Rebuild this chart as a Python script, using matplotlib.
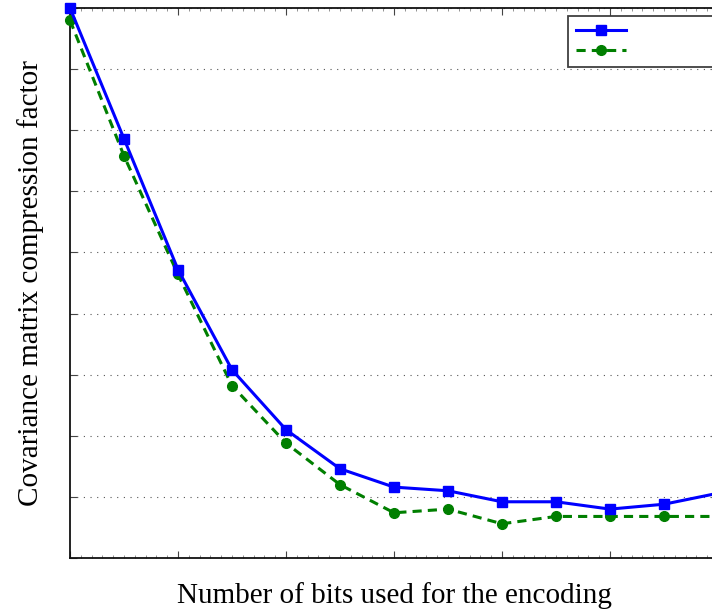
"""
Covariance matrix compression factor vs number of bits used for the encoding.
"""

import matplotlib
matplotlib.use("Agg")
import matplotlib.pyplot as plt
from matplotlib.ticker import MultipleLocator

# ---- data ----
bits = [2, 3, 4, 5, 6, 7, 8, 9, 10, 11, 12, 13, 14]
series_a = [45.0, 34.3, 23.6, 15.4, 10.5, 7.3, 5.8, 5.5, 4.6, 4.6, 4.0, 4.4, 5.3]
series_b = [44.0, 32.9, 23.2, 14.1, 9.4, 6.0, 3.7, 4.0, 2.8, 3.4, 3.4, 3.4, 3.4]
label_a = "                    "
label_b = "                    "

plt.rcParams["font.family"] = ["Liberation Serif", "DejaVu Serif"]

fig = plt.figure(figsize=(7.12, 6.16), dpi=100)
ax = fig.add_axes([70 / 712, 58 / 616, 648 / 712, 550 / 616])

ax.plot(bits, series_a, color="#0000FF", linestyle="-", linewidth=2.2,
        marker="s", markersize=7, label=label_a, clip_on=False, zorder=4)
ax.plot(bits, series_b, color="#007F00", linestyle="--", linewidth=2.2,
        dashes=(3, 2), marker="o", markersize=7, label=label_b,
        clip_on=False, zorder=3)

ax.set_xlim(2, 14)
ax.set_ylim(0, 45)
ax.xaxis.set_major_locator(MultipleLocator(2))
ax.xaxis.set_minor_locator(MultipleLocator(0.2))
ax.yaxis.set_major_locator(MultipleLocator(5))

ax.tick_params(which="both", direction="in", top=True, right=True,
               labelbottom=False, labelleft=False)
ax.tick_params(which="major", length=5, width=0.8, color="#444444")
ax.tick_params(which="minor", length=2, width=0.5, color="#666666")

ax.grid(axis="y", linestyle=(0, (1, 5)), color="#555555", linewidth=0.8)
for s in ax.spines.values():
    s.set_linewidth(1.3)
    s.set_color("#111111")

ax.set_xlabel("Number of bits used for the encoding", fontsize=21, labelpad=17)
ax.set_ylabel("Covariance matrix compression factor", fontsize=21, labelpad=19)

leg = ax.legend(loc="upper left", bbox_to_anchor=(568 / 712, 1 - 16 / 616),
                bbox_transform=fig.transFigure, frameon=True, fancybox=False,
                handlelength=3.0, fontsize=12, borderpad=0.45,
                labelspacing=0.25, borderaxespad=0, handletextpad=0.5)
leg.get_frame().set_edgecolor("#111111")
leg.get_frame().set_linewidth(1.3)

fig.savefig("out.png", dpi=100)
